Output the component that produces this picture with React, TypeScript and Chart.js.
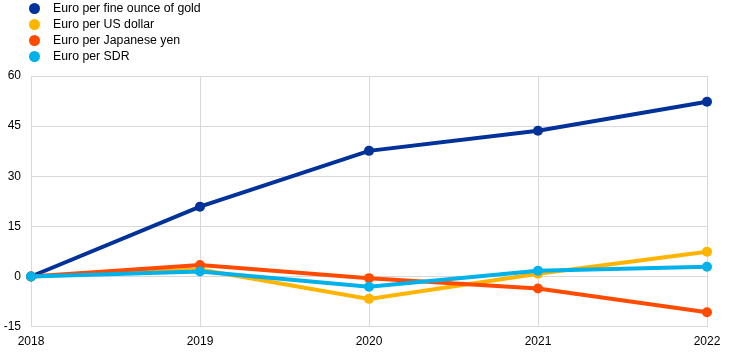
import React, { useEffect, useRef } from "react";
import { Chart, registerables } from "chart.js";

Chart.register(...registerables);

const years = ["2018", "2019", "2020", "2021", "2022"];
const seriesNames = [
  "Euro per fine ounce of gold",
  "Euro per US dollar",
  "Euro per Japanese yen",
  "Euro per SDR",
];
const gold = [0, 20.9, 37.6, 43.6, 52.3];
const usd = [0, 2.1, -6.7, 0.8, 7.4];
const jpy = [0, 3.4, -0.5, -3.6, -10.7];
const sdr = [0, 1.5, -3.1, 1.7, 2.9];
const colors = ["#003299", "#FFB400", "#FF4B00", "#00B1EA"];
const drawOrder = [3, 2, 1, 0];

export default function App() {
  const ref = useRef<HTMLCanvasElement>(null);
  useEffect(() => {
    const all = [gold, usd, jpy, sdr];
    const chart = new Chart(ref.current!, {
      type: "line",
      data: {
        labels: years,
        datasets: all.map((d, i) => ({
          label: seriesNames[i],
          data: d,
          borderColor: colors[i],
          backgroundColor: colors[i],
          borderWidth: 4,
          pointRadius: 5,
          pointHoverRadius: 5,
          pointBorderWidth: 0,
          tension: 0,
          order: drawOrder[i],
        })),
      },
      options: {
        animation: false,
        responsive: false,
        maintainAspectRatio: false,
        layout: { padding: { top: 76, right: 37, left: 0, bottom: 5 } },
        plugins: { legend: { display: false }, tooltip: { enabled: false } },
        scales: {
          x: {
            offset: false,
            grid: { color: "#d9d9d9", drawTicks: false },
            border: { color: "#d9d9d9" },
            ticks: {
              color: "#000",
              font: { family: "Arial, Liberation Sans", size: 12 },
              padding: 8,
              maxRotation: 0,
            },
          },
          y: {
            min: -15,
            max: 60,
            afterFit: (scale: any) => {
              scale.width = 31;
            },
            grid: { color: "#d9d9d9", drawTicks: false },
            border: { color: "#d9d9d9" },
            ticks: {
              stepSize: 15,
              color: "#000",
              font: { family: "Arial, Liberation Sans", size: 12 },
              padding: 10,
            },
          },
        },
      },
    });
    return () => chart.destroy();
  }, []);
  return (
    <div style={{ position: "fixed", left: 0, top: 0, width: 744, height: 362, background: "#fff" }}>
      <canvas ref={ref} width={744} height={362} style={{ position: "absolute", left: 0, top: 0 }} />
      <div style={{ position: "absolute", left: 29, top: 0, fontFamily: "Arial, 'Liberation Sans'", fontSize: 12.3, color: "#000" }}>
        {seriesNames.map((n, i) => (
          <div key={n} style={{ display: "flex", alignItems: "center", height: 16 }}>
            <span style={{ display: "inline-block", width: 11, height: 11, borderRadius: "50%", background: colors[i], marginRight: 13 }} />
            <span>{n}</span>
          </div>
        ))}
      </div>
    </div>
  );
}
